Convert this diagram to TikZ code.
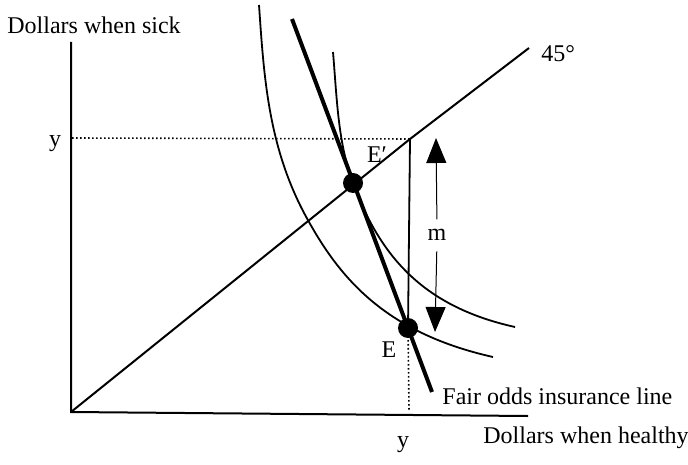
\documentclass[tikz,border=0pt]{standalone}
\usepackage{fontspec}
\setmainfont{Liberation Serif}
\usetikzlibrary{arrows.meta}
\tikzset{axis/.style={line width=1pt},
  icurve/.style={line width=0.9pt},
  fairline/.style={line width=2pt},
  dotline/.style={line width=0.8pt,dash pattern=on 0.8pt off 1.2pt},
  dot/.style={circle,fill=black,inner sep=0pt,minimum size=10pt},
  lbl/.style={inner sep=0pt,font=\fontsize{12}{14}\selectfont},
  marrow/.style={line width=0.5pt,-{Triangle[width=10pt,length=12.5pt]}},
}
\begin{document}
\begin{tikzpicture}[x=0.5pt,y=-0.5pt]
  \useasboundingbox (0,0) rectangle (688,464);
  \coordinate (O) at (71,412);
  \coordinate (ytop) at (71,42);
  \coordinate (xend) at (528,416);
  \coordinate (corner) at (410,139);
  \coordinate (d45) at (529,48);
  \coordinate (ymark) at (72,138);
  \coordinate (xmark) at (409,410);
  \coordinate (ftop) at (292,19);
  \coordinate (fbot) at (432,392);
  \coordinate (Ep) at (353,183);
  \coordinate (E) at (408,328);
  \coordinate (mtop) at (436,138);
  \coordinate (mbot) at (435,332);
  \coordinate (c1a) at (259,5);
  \coordinate (c1m) at (309,222);
  \coordinate (c1b) at (493,357);
  \coordinate (c2a) at (333,52);
  \coordinate (c2b) at (515,327);

  \draw[axis] (ytop) -- (O) -- (xend);
  \draw[axis] (O) -- (corner) -- (d45);
  \draw[dotline] (ymark) -- (corner);
  \draw[icurve] (corner) -- (E);
  \draw[dotline] (E) -- (xmark);
  % indifference curves
  \draw[icurve] (c1a) .. controls (264,77) and (268,150) .. (c1m)
    .. controls (341,279) and (386,333) .. (c1b);
  \draw[icurve] (c2a) .. controls (337,100) and (338,143) .. (Ep)
    .. controls (379,253) and (420,306) .. (c2b);
  \draw[fairline] (ftop) -- (fbot);
  \node[dot] (dEp) at (Ep) {};
  \node[dot] (dE) at (E) {};

  % labels
  \node[lbl,anchor=base west] (sick) at (7,34) {Dollars when sick};
  \node[lbl,anchor=base west] (healthy) at (483,443) {Dollars when healthy};
  \node[lbl,anchor=base west] (fairlbl) at (442,404) {Fair odds insurance line};
  \node[lbl,anchor=base] (ylab) at (55,147) {y};
  \node[lbl,anchor=base] (xlab) at (403,447) {y};
  \node[lbl,anchor=base west] (deg) at (541,62) {45°};
  \node[lbl,anchor=base] (Eplab) at (377,163) {E′};
  \node[lbl,anchor=base] (Elab) at (389,357) {E};
  \node[lbl,anchor=base] (m) at (437,240) {m};
  \draw[marrow,shorten <=4.5pt] (m.north) -- (mtop);
  \draw[marrow,shorten <=5.5pt] (m.south) -- (mbot);
\end{tikzpicture}
\end{document}
